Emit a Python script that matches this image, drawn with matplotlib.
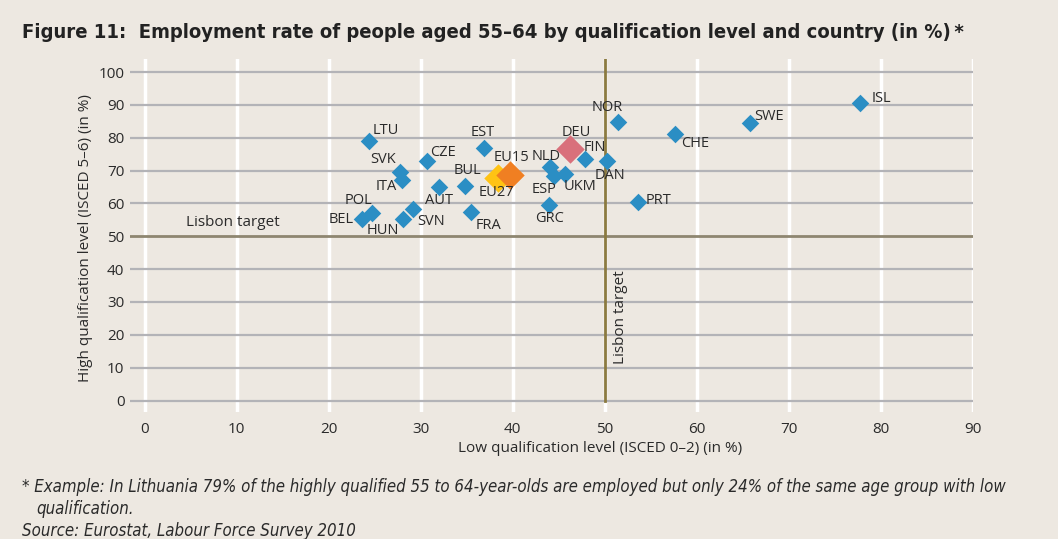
import matplotlib
matplotlib.use("Agg")
import matplotlib.pyplot as plt

countries = ["LTU", "SVK", "ITA", "CZE", "EST", "BUL", "AUT", "POL", "BEL", "HUN",
             "SVN", "FRA", "NLD", "ESP", "UKM", "GRC", "FIN", "DAN", "NOR", "CHE",
             "SWE", "ISL", "PRT"]
low_qual = [24.4, 27.7, 28.0, 30.7, 36.9, 34.8, 32.0, 24.7, 23.6, 28.1,
            29.2, 35.5, 44.1, 44.5, 45.7, 43.9, 47.9, 50.3, 51.5, 57.7,
            65.8, 77.8, 53.6]
high_qual = [79.0, 69.7, 67.2, 73.0, 76.8, 65.4, 65.1, 57.2, 55.2, 55.2,
             58.4, 57.3, 71.0, 68.4, 68.9, 59.6, 73.6, 73.0, 84.9, 81.2,
             84.4, 90.7, 60.4]

special = ["EU27", "EU15", "DEU"]
special_low = [38.4, 39.7, 46.2]
special_high = [67.9, 68.7, 76.6]

lisbon_target = 50
x_ticks = list(range(0, 100, 10))
y_ticks = list(range(0, 110, 10))

title = "Figure 11:  Employment rate of people aged 55\u201364 by qualification level and country (in %)\u2009*"
xlabel = "Low qualification level (ISCED 0\u20132) (in %)"
ylabel = "High qualification level (ISCED 5\u20136) (in %)"
note1 = "* Example: In Lithuania 79% of the highly qualified 55 to 64-year-olds are employed but only 24% of the same age group with low"
note2 = "qualification."
source = "Source: Eurostat, Labour Force Survey 2010"

# label offsets in pixels (style)
offsets = {
    "LTU": (17, 11), "SVK": (-16, 12), "ITA": (-16, -7), "CZE": (16, 8),
    "EST": (-1, 16), "BUL": (3, 15), "AUT": (0, -14), "POL": (-13, 12),
    "BEL": (-21, 0), "HUN": (-20, -11), "SVN": (18, -13), "FRA": (17, -13),
    "NLD": (-4, 11), "ESP": (-10, -14), "UKM": (15, -12), "GRC": (1, -14),
    "FIN": (10, 11), "DAN": (3, -15), "NOR": (-11, 14), "CHE": (20, -10),
    "SWE": (19, 7), "ISL": (21, 4), "PRT": (21, 2),
    "EU27": (-1, -15), "EU15": (2, 17), "DEU": (7, 16),
}
special_colors = {"EU27": "#FFC314", "EU15": "#F07F22", "DEU": "#D9707B"}

bg = "#EDE8E1"
fig = plt.figure(figsize=(10.58, 5.39), dpi=100, facecolor=bg)
ax = fig.add_axes([130 / 1058, 1 - 412 / 539, (973 - 130) / 1058, (412 - 59) / 539])
ax.set_facecolor(bg)
ax.set_xlim(-1.6, 90.05)
ax.set_ylim(-3.5, 104)

for s in ax.spines.values():
    s.set_visible(False)

for xv in x_ticks:
    ax.axvline(xv, color="white", lw=2.5, zorder=0)
for yv in y_ticks:
    if yv != lisbon_target:
        ax.axhline(yv, color="#B3B3B7", lw=1.6, zorder=0.5)

ax.axhline(lisbon_target, color="#8E8670", lw=2.0, zorder=1)
ax.axvline(lisbon_target, color="#8B7A40", lw=2.0, zorder=1, ymin=3.5 / 107.5, ymax=1)

tick_font = dict(family="Open Sans", size=11, color="#2a2a2a")
ax.set_xticks(x_ticks)
ax.set_yticks(y_ticks)
ax.set_xticklabels([str(v) for v in x_ticks], **tick_font)
ax.set_yticklabels([str(v) for v in y_ticks], **tick_font)
ax.tick_params(length=0, pad=4)
ax.tick_params(axis="x", pad=7)

ax.scatter(low_qual, high_qual, marker="D", s=80, color="#2B8EC4", zorder=3, linewidths=0)
for name, lx, hy in zip(special, special_low, special_high):
    ax.scatter([lx], [hy], marker="D", s=210, color=special_colors[name], zorder=4, linewidths=0)

lab_font = dict(family="Open Sans", size=10.5, color="#2a2a2a")
for name, lx, hy in zip(countries + special, low_qual + special_low, high_qual + special_high):
    dx, dy = offsets[name]
    ax.annotate(name, (lx, hy), xytext=(dx, dy), textcoords="offset pixels",
                ha="center", va="center", zorder=5, **lab_font)

ax.text(4.5, 54.2, "Lisbon target", ha="left", va="center", family="Open Sans", size=11, color="#2a2a2a")
ax.text(51.7, 25.3, "Lisbon target", rotation=90, ha="center", va="center",
        family="Open Sans", size=11, color="#2a2a2a")

fig.text(600 / 1058, 1 - 449 / 539, xlabel, ha="center", va="center",
         family="Open Sans", size=11, color="#2a2a2a")
fig.text(86 / 1058, 1 - 238 / 539, ylabel, ha="center", va="center", rotation=90,
         family="Open Sans", size=11, color="#2a2a2a")

t_title = fig.text(22 / 1058, 1 - 33 / 539, title, ha="left", va="center",
                   family="DejaVu Sans", stretch="condensed", weight="bold", size=15.5, color="#222222")

foot = dict(family="DejaVu Sans", stretch="condensed", style="italic", size=11.5, color="#2a2a2a")
t_n1 = fig.text(22 / 1058, 1 - 487 / 539, note1, ha="left", va="center", **foot)
t_n2 = fig.text(36 / 1058, 1 - 509 / 539, note2, ha="left", va="center", **foot)
t_src = fig.text(22 / 1058, 1 - 531 / 539, source, ha="left", va="center", **foot)

# fit text widths to the reference widths
renderer = fig.canvas.get_renderer()
def fit(t, target_px):
    w = t.get_window_extent(renderer).width
    if w > 0:
        t.set_fontsize(t.get_fontsize() * target_px / w)

fit(t_title, 946)
fit(t_n1, 983)
fs = t_n1.get_fontsize()
t_n2.set_fontsize(fs)
t_src.set_fontsize(fs)

fig.savefig("out.png", dpi=100, facecolor=bg)
